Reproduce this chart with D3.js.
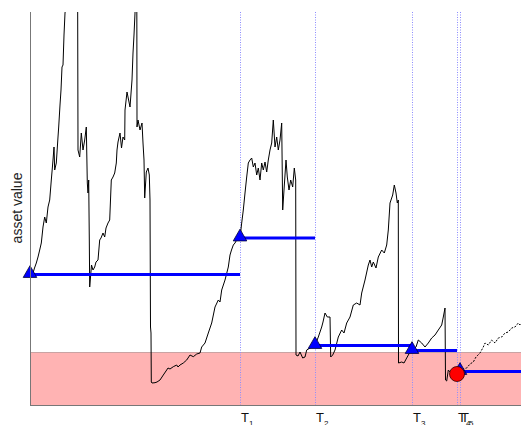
<!DOCTYPE html>
<html><head><meta charset="utf-8">
<script src="https://cdn.jsdelivr.net/npm/d3@7"></script>
<style>html,body{margin:0;padding:0;background:#fff;overflow:hidden}</style>
</head><body>
<svg id="c" width="521" height="425"></svg>
<script>
// asset value path (time, value) before default
const assetPath = [
[0,131],[3,132],[4.5,137],[6.3,142],[8,148],[9.7,155],[11.3,162],[13,178],[14.7,188],[16.3,182],
[18,198],[19.7,205],[21.3,225],[23,245],[24,258],[24.7,235],[26.3,242],[28,268],[28.7,278],[30,300],
[31,315],[32,338],[33,340],[34,370],[35,392],[37,405],[40,425],[44,440],[47.6,430],[48,255],
[49.7,248],[51.3,272],[53,255],[54.7,265],[56.3,278],[57.3,222],[58,212],[58.7,225],[59.3,165],[59.7,118],
[60.7,130],[61.5,140],[63,135],[64.7,138],[66,143],[68,145],[69.7,165],[71,167],[73,172],[74.7,168],
[76,177],[78,182],[79.7,185],[81.3,225],[83,228],[84.7,232],[86.3,242],[87,255],[88,263],[90,272],
[91.5,257],[93,268],[94.7,265],[95,295],[97,313],[98,308],[100,298],[102,325],[103,352],[104,370],
[105,392],[106,420],[106.8,415],[107,278],[108,285],[110,275],[112,282],[113,262],[114,245],[114.7,207],
[116.3,233],[118,237],[119.3,230],[120,205],[120.5,78],[121,72],[121.3,23],[122,22],[125,22.3],[127,23],
[130,25],[133.3,30],[136.7,35],[138,37],[140,36],[143.3,38.3],[146.7,40],[148,38],[150,40],[153.3,42],
[156.7,45],[160,50],[163.3,48.3],[166.7,51],[170,52],[171.7,58],[175,62],[178.3,72],[181.7,82],[185,98],
[188.3,105],[190,103],[191.7,115],[195,125],[198.3,138],[200,150],[201.5,155],[203.3,160],[205,162],[208.3,168],
[210,167],[211.7,182],[213.3,195],[215,212],[216.7,228],[218.3,242],[220,245],[221.7,247],[223.3,238],[225,242],
[226.7,230],[228.3,237],[230,225],[231.7,242],[233.3,235],[235,243],[236.7,233],[238.3,245],[240,255],[241.7,262],
[243.3,285],[245,258],[246.7,268],[248.3,255],[250,265],[251.7,282],[252.7,195],[254,215],[256,245],[257.3,228],
[259,215],[260.7,225],[262.7,218],[264.3,237],[265.7,225],[266,50],[268,49],[270,53],[272.7,47],[275,48],
[276.7,55],[280,57],[282,58],[285,59.5],[288.3,68],[291.7,78],[293,83],[295,92],[297.3,88],[300,88],
[300.7,48],[302.7,50],[305,55],[308.3,68],[311.7,75],[314,72],[316.7,82],[320,88],[323.3,100],[326.7,102],
[330,100],[331.7,112],[335,125],[338.3,140],[340,145],[341.7,138],[343.3,143],[346,137],[348.3,148],[351.7,155],
[354.3,152],[356.7,160],[358.3,175],[360,202],[362.7,210],[364.3,220],[366,212],[367.3,202],[368.3,205],[368.5,42],
[371.7,43],[374,42],[376.7,47],[380,53],[382,55],[386,58],[388.3,65],[391.7,62],[395,58],[398.3,62],
[401.7,67],[405,70],[408.3,75],[411.7,80],[413.3,88],[415,97],[415.5,25],[416.7,24],[418.3,35],[421,32],
[424,33],[427,31]
];
// continuation after default (dashed)
const afterDefault = [
[427,31],[430,34],[433,36],[436.7,37],[440,41],[443.3,43],[446,48],[450,52],[453.3,58],[455,62],
[458.3,60],[461.7,65],[465,62],[468.3,67],[471.7,68],[475,72],[478.3,73],[481.7,77],[485,78],[488.3,82],
[490,80],[493,83]
];
const obsTimes = [0, 210, 285, 382, 427, 430];
const obsLabels = ["", "1", "2", "3", "4", "5"];
const resetTimes = [0, 210, 285, 382, 430];
const resetEnds = [210, 285, 382, 427, 495];
const resetLevels = [130.5, 167, 59.5, 54.5, 33.5];
const defaultPoint = [427, 31];
const barrier = 52.5;
const yLabel = "asset value";

const svg = d3.select("#c");
const x = d3.scaleLinear().domain([0, 491]).range([30, 521]);
const y = d3.scaleLinear().domain([0, 393]).range([405, 12]);

svg.append("defs").append("clipPath").attr("id","clip")
  .append("rect").attr("x",30).attr("y",12).attr("width",491).attr("height",393);

const g = svg.append("g").attr("clip-path","url(#clip)");

// barrier band
g.append("rect").attr("x", x(0)).attr("y", y(barrier))
  .attr("width", x(491)-x(0)+5).attr("height", y(0)-y(barrier))
  .attr("fill","#ffb3b3");
g.append("line").attr("x1",x(0)).attr("x2",x(491)+5)
  .attr("y1",y(barrier)).attr("y2",y(barrier))
  .attr("stroke","#c9a3a3").attr("stroke-width",1);

// observation lines
g.selectAll("line.obs").data(obsTimes.slice(1)).join("line").attr("class","obs")
  .attr("x1",d=>x(d)+0.5).attr("x2",d=>x(d)+0.5).attr("y1",y(393)).attr("y2",y(0))
  .attr("stroke","#8c8cff").attr("stroke-width",1).attr("stroke-dasharray","1,1.5");

const line = d3.line().x(d=>x(d[0])).y(d=>y(d[1]));
g.append("path").attr("d", line(assetPath)).attr("fill","none")
  .attr("stroke","#000").attr("stroke-width",1).attr("stroke-linejoin","round");
g.append("path").attr("d", line(afterDefault)).attr("fill","none")
  .attr("stroke","#000").attr("stroke-width",1).attr("stroke-dasharray","2,1.5");

// reset levels
g.selectAll("line.reset").data(resetLevels).join("line").attr("class","reset")
  .attr("x1",(d,i)=>x(resetTimes[i])).attr("x2",(d,i)=>x(resetEnds[i]))
  .attr("y1",d=>y(d)).attr("y2",d=>y(d))
  .attr("stroke","#0000ff").attr("stroke-width",3);

const tri = d3.symbol().type(d3.symbolTriangle).size(80);
svg.selectAll("path.tri").data(resetLevels).join("path").attr("class","tri")
  .attr("d", tri)
  .attr("transform",(d,i)=>`translate(${x(resetTimes[i])},${y(d)-1})`)
  .attr("fill","#0000ff").attr("stroke","#000033").attr("stroke-width",0.8);

svg.append("circle").attr("cx",x(defaultPoint[0])).attr("cy",y(defaultPoint[1]))
  .attr("r",7.5).attr("fill","#ff0000").attr("stroke","#330000").attr("stroke-width",0.8);

// axes lines
svg.append("line").attr("x1",30.5).attr("x2",30.5).attr("y1",y(393)).attr("y2",y(0)+0.5)
  .attr("stroke","#777").attr("stroke-width",1);
svg.append("line").attr("x1",30).attr("x2",521).attr("y1",y(0)+0.5).attr("y2",y(0)+0.5)
  .attr("stroke","#777").attr("stroke-width",1);

// T labels
const lab = svg.selectAll("text.t").data(obsTimes.slice(1)).join("text").attr("class","t")
  .attr("x",d=>x(d)+1).attr("y",422)
  .attr("font-family","Liberation Sans, Arial, sans-serif").attr("font-size",13).attr("fill","#111");
lab.append("tspan").text("T");
lab.append("tspan").attr("dy",4).attr("font-size",8).text((d,i)=>obsLabels[i+1]);

svg.append("text").attr("transform","translate(22,208) rotate(-90)")
  .attr("text-anchor","middle").attr("font-family","Liberation Sans, Arial, sans-serif")
  .attr("font-size",14).attr("fill","#222").text(yLabel);
</script>
</body></html>
